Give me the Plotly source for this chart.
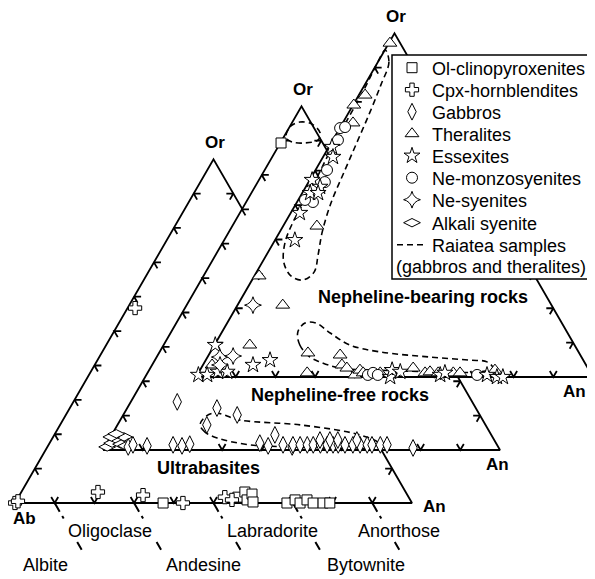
import math
import plotly.graph_objects as go

# compositions, in % (An, Or); Ab = 100 - An - Or

# --- Ultrabasites triangle
ub_olcpx_an = [37.3, 55.3, 56.3, 58.0, 58.4, 59.8, 68.5, 70.1, 71.8, 73.1, 75.1, 77.6, 79.3]
ub_olcpx_or = [0, 1.7, 3.2, 0.9, 2.6, 0.3, 0, 0.9, 0, 0.9, 0, 0, 0]
ub_cpxhb_an = [0, 0.5, 1.9, 19.3, 31.1, 42.3, 52.0, 54.2]
ub_cpxhb_or = [0, 0.5, 56.7, 3.2, 2.3, 0, 1.7, 0.9]

# --- Nepheline-free triangle
nf_gabbro_an = [5.9, 6.8, 10.5, 16.9, 19.3, 21.0, 11.7, 22.6, 22.5, 28.7, 38.5, 41.0, 41.1, 47.2,
                44.6, 47.1, 48.9, 50.7, 52.2, 54.0, 55.7, 57.2, 58.5, 60.2, 62.2, 64.0, 65.8,
                67.0, 69.1, 70.8, 77.8, 53.2, 55.7, 57.7, 62.5]
nf_gabbro_or = [0.9, 1.5, 1.2, 1.5, 1.2, 1.7, 14.0, 12.2, 7.3, 10.2, 2.0, 1.2, 4.4, 0.9,
                1.5, 1.5, 1.5, 1.5, 1.5, 1.5, 1.5, 1.5, 1.5, 1.5, 1.5, 1.5, 1.5,
                1.5, 1.5, 1.5, 0.6, 2.9, 2.9, 2.9, 2.9]
nf_alksy_an = [0.6, 1.3, 2.3, 3.4, 0.2, 1.0, 3.7, 5.2]
nf_alksy_or = [0.9, 2.0, 2.9, 3.8, 3.8, 4.7, 1.7, 1.2]
nf_olcpx_an = [0.2]
nf_olcpx_or = [89.3]

# --- Nepheline-bearing triangle
nb_theral_an = [0.3, 1.6, 0.2, 2.6, 8.5, 1.2, 11.4, 8.9, 2.3, 24.7, 27.4, 33.1, 35.0, 36.7,
                39.7, 40.3, 41.5, 45.8, 53.4, 57.1, 58.2, 60.4, 64.2, 65.9, 74.3]
nb_theral_or = [97.1, 82.0, 79.1, 73.9, 43.9, 29.4, 20.9, 9.3, 3.5, 7.0, 1.2, 6.4, 3.5, 2.6,
                0.6, 2.0, 1.2, 1.2, 2.6, 1.2, 1.5, 1.2, 1.2, 1.2, 2.0]
nb_essex_an = [0.8, 2.5, 0.6, 3.6, 2.0, 4.0, 2.3, 5.0, 0.2, 12.6, 16.2, 0.3, 2.5, 4.8, 7.1,
               48.9, 48.4, 50.7, 61.2, 62.1, 73.0, 75.8, 77.3]
nb_essex_or = [66.9, 64.0, 57.3, 55.3, 53.5, 53.5, 47.7, 39.8, 9.3, 3.5, 4.9, 0.6, 0.6, 1.5, 1.5,
               0, 2.0, 1.5, 0.6, 1.2, 0.6, 0, 0]
nb_monzo_an = [0.1, 1.2, 1.3, 2.9, 4.1, 4.0, 1.7, 43.0, 44.0, 45.5, 70.5]
nb_monzo_or = [72.4, 72.7, 68.9, 60.2, 56.7, 50.9, 51.5, 0.6, 1.2, 0.6, 0.6]
nb_nesy_an = [3.9, 3.1, 6.3, 4.3]
nb_nesy_or = [20.9, 5.8, 6.1, 3.5]

# Raiatea sample fields (outlines)
rai_nf_top_an = [0.7, 0.1, 1.9, 5.2, 8.6, 9.1, 6.2, 2.8, 0.7]
rai_nf_top_or = [90.8, 94.0, 95.4, 94.8, 92.2, 90.2, 89.3, 89.6, 90.8]
rai_nf_low_an = [27.0, 23.1, 20.8, 20.9, 22.8, 30.2, 46.0, 62.5, 68.3, 67.0, 49.2, 36.3, 27.0]
rai_nf_low_or = [3.5, 5.2, 7.3, 9.6, 10.8, 8.7, 7.3, 4.4, 2.0, 0.6, 0.9, 1.5, 3.5]
rai_nb_top_an = [0.1, 2.8, 4.1, 5.3, 6.4, 7.5, 8.7, 10.7, 13.0, 14.5, 12.8, 9.2, 5.4, 2.9,
                 1.9, 1.7, 1.4, 0.8, 0.7, 0.5, 0.0, 0.1]
rai_nb_top_or = [95.1, 91.6, 84.9, 77.1, 68.4, 59.6, 50.6, 42.2, 35.5, 30.5, 28.2, 29.4, 33.4,
                 39.0, 45.1, 51.5, 58.8, 67.5, 76.2, 84.1, 91.6, 95.1]
rai_nb_low_an = [25.8, 21.5, 19.1, 19.6, 22.4, 27.4, 34.1, 42.7, 56.0, 66.5, 71.1, 73.5, 70.8,
                 60.7, 45.3, 35.0, 29.0, 25.8]
rai_nb_low_or = [5.8, 9.3, 13.1, 15.7, 15.7, 12.8, 9.3, 7.3, 5.8, 4.9, 4.4, 2.6, 1.5,
                 1.5, 2.0, 2.6, 4.4, 5.8]

# plagioclase boundaries (An %) and names
plag_bounds = [10, 30, 50, 70, 90]
plag_names = ["Albite", "Oligoclase", "Andesine", "Labradorite", "Bytownite", "Anorthose"]
tick_vals = [10, 20, 30, 40, 50, 60, 70, 80, 90]

# legend entries in display order
leg_names = ["Ol-clinopyroxenites", "Cpx-hornblendites", "Gabbros", "Theralites", "Essexites",
             "Ne-monzosyenites", "Ne-syenites", "Alkali syenite", "Raiatea samples"]

# layout: axes in window pixels (page body has an 8px margin)
W, Hw = 595, 579
OFF = 8
SIDE = 397.0
HT = SIDE * math.sqrt(3) / 2
UB = (15, 503)
NF = (103, 450)
NB = (196, 377)
FONT = "Liberation Sans, Arial, sans-serif"
LEG_X = 392
LEG_Y = [68, 90, 112, 134, 156, 178, 200, 223, 245]


def tern(an, orr, origin):
    x0, y0 = origin
    xs = [x0 + SIDE * (a + o / 2) / 100 for a, o in zip(an, orr)]
    ys = [y0 - HT * o / 100 for o in orr]
    return xs, ys


def ticks(origin):
    xs, ys = [], []
    c, s = 0.5, math.sqrt(3) / 2
    n = 7
    for v in tick_vals:
        bx, by = tern([v], [0], origin)
        xs += [bx[0] - n * c, bx[0], bx[0] + n * c, None]
        ys += [by[0] - n * s, by[0], by[0] - n * s, None]
        lx, ly = tern([0], [v], origin)
        xs += [lx[0] + n, lx[0], lx[0] + n * c, None]
        ys += [ly[0], ly[0], ly[0] + n * s, None]
        rx, ry = tern([100 - v], [v], origin)
        xs += [rx[0] - n, rx[0], rx[0] - n * c, None]
        ys += [ry[0], ry[0], ry[0] + n * s, None]
    return xs, ys


def leg_id(name):
    i = leg_names.index(name) + 1
    return "legend" if i == 1 else "legend%d" % i


fig = go.Figure()


def add_triangle(origin):
    x, y = tern([0, 100, 0, 0], [0, 0, 100, 0], origin)
    fig.add_trace(go.Scatter(x=x, y=y, mode="lines", fill="toself", fillcolor="white",
                             line=dict(color="black", width=1.8), showlegend=False,
                             hoverinfo="skip"))
    tx, ty = ticks(origin)
    fig.add_trace(go.Scatter(x=tx, y=ty, mode="lines", line=dict(color="black", width=1.8),
                             showlegend=False, hoverinfo="skip"))


def add_points(an, orr, origin, name, symbol, show, size=11):
    x, y = tern(an, orr, origin)
    fig.add_trace(go.Scatter(x=x, y=y, mode="markers", name=name, legend=leg_id(name),
                             showlegend=show,
                             marker=dict(symbol=symbol, size=size, color="white",
                                         line=dict(color="black", width=1))))


def add_field(an, orr, origin, show):
    x, y = tern(an, orr, origin)
    fig.add_trace(go.Scatter(x=x, y=y, mode="lines", name="Raiatea samples",
                             legend=leg_id("Raiatea samples"), showlegend=show,
                             line=dict(color="black", width=1.6, dash="6px,4px",
                                       shape="spline", smoothing=1)))


# Ultrabasites
add_triangle(UB)
bx, by = tern(plag_bounds, [0] * len(plag_bounds), UB)
px, py = [], []
for xx, yy in zip(bx, by):
    px += [xx, xx + 30, None]
    py += [yy, yy + 52, None]
fig.add_trace(go.Scatter(x=px, y=py, mode="lines", showlegend=False, hoverinfo="skip",
                         line=dict(color="black", width=2,
                                   dash="10px,5px,3px,27px,9px,40px")))
add_points(ub_olcpx_an, ub_olcpx_or, UB, "Ol-clinopyroxenites", "square", True, 10)
add_points(ub_cpxhb_an, ub_cpxhb_or, UB, "Cpx-hornblendites", "cross", True, 11)

# Nepheline-free rocks
add_triangle(NF)
add_field(rai_nf_low_an, rai_nf_low_or, NF, False)
add_field(rai_nf_top_an, rai_nf_top_or, NF, True)
add_points(nf_alksy_an, nf_alksy_or, NF, "Alkali syenite", "diamond-wide", True, 12)
add_points(nf_gabbro_an, nf_gabbro_or, NF, "Gabbros", "diamond-tall", True, 12)
add_points(nf_olcpx_an, nf_olcpx_or, NF, "Ol-clinopyroxenites", "square", False, 10)

# Nepheline-bearing rocks
add_triangle(NB)
add_field(rai_nb_top_an, rai_nb_top_or, NB, False)
add_field(rai_nb_low_an, rai_nb_low_or, NB, False)
add_points(nb_theral_an, nb_theral_or, NB, "Theralites", "triangle-up", True, 12)
add_points(nb_monzo_an, nb_monzo_or, NB, "Ne-monzosyenites", "circle", True, 11)
add_points(nb_essex_an, nb_essex_or, NB, "Essexites", "star", True, 12)
add_points(nb_nesy_an, nb_nesy_or, NB, "Ne-syenites", "star-diamond", True, 12)

anns = []


def label(x, y, text, size=17, bold=False, anchor="center"):
    anns.append(dict(x=x, y=y, xref="x", yref="y", showarrow=False, xanchor=anchor,
                     text=("<b>%s</b>" % text) if bold else text,
                     font=dict(family=FONT, size=size, color="black")))


for org in (UB, NF, NB):
    ox, oy = tern([0], [100], org)
    label(ox[0] + 1, oy[0] - 17, "Or", bold=True)
label(24, 518, "Ab", bold=True)
label(434, 506, "An", bold=True)
label(497, 464, "An", bold=True)
label(588, 391, "An", bold=True, anchor="right")
label(423, 297, "Nepheline-bearing rocks", 18, True)
label(340, 395, "Nepheline-free rocks", 18, True)
label(208, 468, "Ultrabasites", 18, True)

name_x = [45, 110, 203, 272, 366, 399]
name_y = [565, 531, 565, 531, 565, 531]
for nm, xx, yy in zip(plag_names, name_x, name_y):
    label(xx, yy, nm, 18)

label(491, 267, "(gabbros and theralites)", 18)


def paper_x(sx):
    return (sx - OFF) / (W - OFF)


def paper_y(sy):
    return 1 - (sy - OFF) / (Hw - OFF)


legends = {}
for i, yy in enumerate(LEG_Y):
    key = "legend" if i == 0 else "legend%d" % (i + 1)
    legends[key] = dict(x=paper_x(LEG_X), y=paper_y(yy), xanchor="left", yanchor="middle",
                        bgcolor="rgba(0,0,0,0)", borderwidth=0,
                        font=dict(family=FONT, size=18, color="black"))

fig.update_layout(
    width=W - OFF, height=Hw - OFF,
    margin=dict(l=0, r=0, t=0, b=0),
    paper_bgcolor="white", plot_bgcolor="white",
    xaxis=dict(range=[OFF, W], visible=False, fixedrange=True),
    yaxis=dict(range=[Hw, OFF], visible=False, fixedrange=True),
    showlegend=True,
    hovermode=False,
    annotations=anns,
    shapes=[dict(type="rect", xref="x", yref="y", x0=392, x1=592, y0=55, y1=279,
                 fillcolor="white", line=dict(color="black", width=1.5), layer="above")],
    **legends,
)

fig.write_html("out.html")
